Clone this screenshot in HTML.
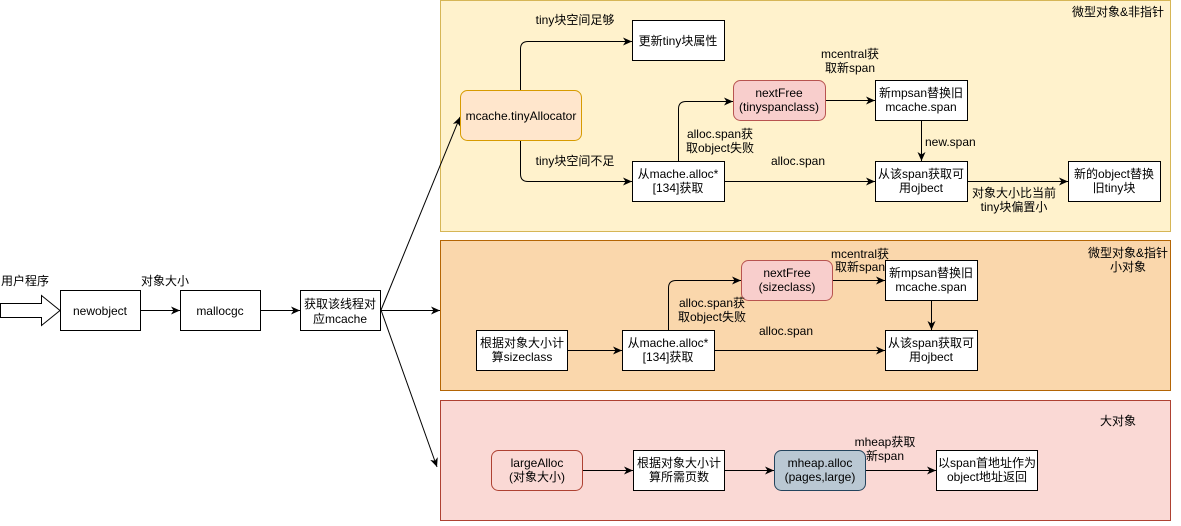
<!DOCTYPE html>
<html><head><meta charset="utf-8"><style>
html,body{margin:0;padding:0;background:#fff;}
svg text{font-family:"Liberation Sans","Noto Sans CJK SC",sans-serif;font-size:12px;fill:#000;}
</style></head><body>
<svg width="1181" height="521" xmlns="http://www.w3.org/2000/svg">
<defs><marker id="a" markerWidth="10" markerHeight="10" refX="9" refY="5" orient="auto" markerUnits="userSpaceOnUse"><path d="M0,1 L9,5 L0,9 L2.5,5 Z" fill="#000"/></marker></defs>
<!-- containers -->
<rect x="440.5" y="0.5" width="730" height="231" fill="#fff2cc" stroke="#d6b656"/>
<rect x="440.5" y="240.5" width="730" height="150" fill="#fad7ac" stroke="#b46504"/>
<rect x="440.5" y="400.5" width="730" height="120" fill="#fad9d5" stroke="#ae4132"/>
<g text-anchor="middle">
<text x="1118" y="16">微型对象&amp;非指针</text>
<text x="1128" y="257">微型对象&amp;指针</text>
<text x="1128" y="271">小对象</text>
<text x="1118" y="425">大对象</text>
</g>
<!-- left -->
<path d="M0.5,303.5 H41.5 V295.5 L60,310.5 L41.5,325.5 V317.5 H0.5 Z" fill="#fff" stroke="#000"/>
<text x="1" y="285">用户程序</text>
<text x="141" y="285">对象大小</text>
<g fill="#fff" stroke="#000">
<rect x="60.5" y="290.5" width="80" height="40"/>
<rect x="180.5" y="290.5" width="80" height="40"/>
<rect x="300.5" y="290.5" width="80" height="40"/>
</g>
<g text-anchor="middle">
<text x="100" y="315">newobject</text>
<text x="220" y="315">mallocgc</text>
<text x="340" y="308">获取该线程对</text>
<text x="340" y="323">应mcache</text>
</g>
<g stroke="#000" fill="none" marker-end="url(#a)">
<line x1="140" y1="310.5" x2="180" y2="310.5"/>
<line x1="260" y1="310.5" x2="300" y2="310.5"/>
<line x1="381" y1="310.5" x2="440" y2="310.5"/>
<line x1="381" y1="310" x2="460" y2="117"/>
<line x1="381" y1="310" x2="437" y2="467"/>
</g>
<!-- top section -->
<rect x="460.5" y="90.5" width="121" height="50" rx="7" fill="#ffe6cc" stroke="#d79b00"/>
<rect x="733.5" y="80.5" width="92" height="40" rx="7" fill="#f8cecc" stroke="#b85450"/>
<g fill="#fff" stroke="#000">
<rect x="632.5" y="20.5" width="92" height="40"/>
<rect x="875.5" y="80.5" width="92" height="40"/>
<rect x="632.5" y="161.5" width="92" height="40"/>
<rect x="875.5" y="161.5" width="92" height="40"/>
<rect x="1068.5" y="161.5" width="92" height="40"/>
</g>
<g text-anchor="middle">
<text x="521" y="120">mcache.tinyAllocator</text>
<text x="678" y="45">更新tiny块属性</text>
<text x="779" y="97">nextFree</text>
<text x="779" y="111">(tinyspanclass)</text>
<text x="921" y="97">新mpsan替换旧</text>
<text x="921" y="111">mcache.span</text>
<text x="678" y="178">从mache.alloc*</text>
<text x="678" y="192">[134]获取</text>
<text x="921" y="178">从该span获取可</text>
<text x="921" y="192">用ojbect</text>
<text x="1114" y="178">新的object替换</text>
<text x="1114" y="192">旧tiny块</text>
<text x="575" y="24">tiny块空间足够</text>
<text x="575" y="165">tiny块空间不足</text>
<text x="720" y="138">alloc.span获</text>
<text x="720" y="152">取object失败</text>
<text x="798" y="165">alloc.span</text>
<text x="850" y="58">mcentral获</text>
<text x="850" y="72">取新span</text>
<text x="1014" y="197">对象大小比当前</text>
<text x="1014" y="211">tiny块偏置小</text>
</g>
<text x="925" y="146">new.span</text>
<g stroke="#000" fill="none" marker-end="url(#a)">
<path d="M520.5,90 V49 Q520.5,41.5 528,41.5 H632"/>
<path d="M520.5,141 V174 Q520.5,181.5 528,181.5 H632"/>
<path d="M678.5,161 V109 Q678.5,101.5 686,101.5 H733"/>
<line x1="725" y1="181.5" x2="875" y2="181.5"/>
<line x1="826" y1="100.5" x2="875" y2="100.5"/>
<line x1="921.5" y1="121" x2="921.5" y2="161"/>
<line x1="968" y1="181.5" x2="1068" y2="181.5"/>
</g>
<!-- mid section -->
<rect x="741.5" y="260.5" width="91" height="40" rx="7" fill="#f8cecc" stroke="#b85450"/>
<g fill="#fff" stroke="#000">
<rect x="476.5" y="330.5" width="91" height="40"/>
<rect x="622.5" y="330.5" width="92" height="40"/>
<rect x="885.5" y="260.5" width="92" height="40"/>
<rect x="885.5" y="330.5" width="92" height="40"/>
</g>
<g text-anchor="middle">
<text x="522" y="347">根据对象大小计</text>
<text x="522" y="361">算sizeclass</text>
<text x="668" y="347">从mache.alloc*</text>
<text x="668" y="361">[134]获取</text>
<text x="787" y="277">nextFree</text>
<text x="787" y="291">(sizeclass)</text>
<text x="931" y="277">新mpsan替换旧</text>
<text x="931" y="291">mcache.span</text>
<text x="931" y="347">从该span获取可</text>
<text x="931" y="361">用ojbect</text>
<text x="712" y="307">alloc.span获</text>
<text x="712" y="321">取object失败</text>
<text x="786" y="335">alloc.span</text>
<text x="860" y="258">mcentral获</text>
<text x="860" y="271">取新span</text>
</g>
<g stroke="#000" fill="none" marker-end="url(#a)">
<line x1="568" y1="350.5" x2="622" y2="350.5"/>
<path d="M668.5,330 V288 Q668.5,280.5 676,280.5 H741"/>
<line x1="715" y1="350.5" x2="885" y2="350.5"/>
<line x1="833" y1="280.5" x2="885" y2="280.5"/>
<line x1="931.5" y1="301" x2="931.5" y2="330"/>
</g>
<!-- bottom -->
<rect x="491.5" y="450.5" width="91" height="40" rx="7" fill="#fad9d5" stroke="#ae4132"/>
<rect x="774.5" y="450.5" width="91" height="40" rx="7" fill="#bac8d3" stroke="#23445d"/>
<g fill="#fff" stroke="#000">
<rect x="633.5" y="450.5" width="91" height="40"/>
<rect x="936.5" y="450.5" width="101" height="40"/>
</g>
<g text-anchor="middle">
<text x="537" y="467">largeAlloc</text>
<text x="537" y="481">(对象大小)</text>
<text x="679" y="467">根据对象大小计</text>
<text x="679" y="481">算所需页数</text>
<text x="820" y="467">mheap.alloc</text>
<text x="820" y="481">(pages,large)</text>
<text x="987" y="467">以span首地址作为</text>
<text x="987" y="481">object地址返回</text>
<text x="885" y="446">mheap获取</text>
<text x="885" y="460">新span</text>
</g>
<g stroke="#000" fill="none" marker-end="url(#a)">
<line x1="583" y1="470.5" x2="633" y2="470.5"/>
<line x1="725" y1="470.5" x2="774" y2="470.5"/>
<line x1="866" y1="470.5" x2="936" y2="470.5"/>
</g>
</svg>
</body></html>
